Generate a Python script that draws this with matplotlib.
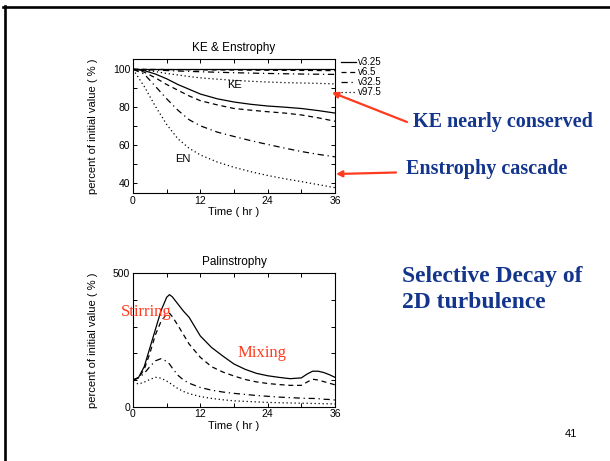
import matplotlib
matplotlib.use("Agg")
import matplotlib.pyplot as plt
from matplotlib.lines import Line2D
from matplotlib.text import Annotation
from matplotlib.ticker import MultipleLocator, FixedLocator

# ---- data -------------------------------------------------------------
runs = ["v3.25", "v6.5", "v32.5", "v97.5"]

t_top = [0, 2, 4, 6, 8, 10, 12, 15, 18, 21, 24, 27, 30, 33, 36]

ke_v3 = [100, 100, 100, 100, 100, 100, 100, 100, 100, 100, 100, 100, 100, 100, 100]
ke_v6 = [100, 99.95, 99.9, 99.85, 99.8, 99.75, 99.7, 99.65, 99.6, 99.55, 99.5, 99.45, 99.4, 99.35, 99.3]
ke_v32 = [100, 99.85, 99.6, 99.35, 99.1, 98.9, 98.7, 98.45, 98.2, 98.0, 97.8, 97.65, 97.5, 97.4, 97.3]
ke_v97 = [100, 99.6, 98.8, 97.8, 97.0, 96.2, 95.5, 94.8, 94.2, 93.7, 93.3, 93.0, 92.8, 92.6, 92.3]

en_v3 = [100, 99.3, 97.5, 95.0, 92.0, 89.5, 87.0, 84.5, 82.8, 81.6, 80.7, 80.1, 79.4, 78.3, 77.0]
en_v6 = [100, 98.5, 95.5, 92.0, 89.0, 86.0, 83.5, 81.3, 79.4, 78.5, 77.7, 77.0, 76.0, 74.5, 72.7]
en_v32 = [100, 97.5, 91.0, 84.5, 78.5, 73.5, 70.3, 67.0, 64.7, 62.5, 60.5, 58.6, 56.8, 55.3, 54.0]
en_v97 = [100, 91.0, 80.5, 71.0, 63.5, 58.5, 55.0, 51.3, 48.5, 46.2, 44.2, 42.5, 41.0, 39.4, 37.8]

t_pal = [0, 1, 2, 3, 4, 5, 6, 6.5, 7, 8, 9, 10, 12, 14, 16, 18, 20, 22, 24,
         26, 28, 30, 31, 32, 33, 34, 35, 36]
pal_v3 = [100, 110, 150, 220, 290, 360, 410, 420, 412, 385, 358, 335, 265, 222,
          190, 160, 140, 125, 116, 110, 105, 108, 122, 133, 133, 128, 120, 110]
pal_v6 = [100, 108, 140, 200, 270, 320, 348, 350, 338, 305, 270, 235, 185, 150,
          130, 115, 102, 93, 87, 83, 80, 80, 92, 103, 100, 94, 88, 82]
pal_v32 = [100, 108, 125, 150, 172, 180, 170, 160, 145, 118, 100, 88, 72, 62,
           55, 50, 46, 42, 39, 36, 34, 32, 31, 31, 30, 28, 27, 25]
pal_v97 = [92, 85, 92, 102, 110, 107, 96, 90, 82, 68, 57, 49, 38, 31,
           26, 22, 20, 18, 16, 15, 14, 13, 13, 12, 12, 11, 11, 10]

# ---- styling ----------------------------------------------------------
plt.rcParams["font.family"] = ["Liberation Sans", "DejaVu Sans"]
styles = ["-", (0, (4, 3)), (0, (5, 3, 1, 3)), (0, (1, 2.2))]
LW = 0.9
RED = "#FF3B1F"
BLUE = "#13358C"
SERIF = ["Liberation Serif", "DejaVu Serif"]

W, H = 610, 461
fig = plt.figure(figsize=(W / 100, H / 100), dpi=100)


def frac_box(x0, y0, x1, y1):
    return [x0 / W, 1 - y1 / H, (x1 - x0) / W, (y1 - y0) / H]


def fp(x, y):
    return (x / W, 1 - y / H)


def style_axes(ax):
    for s in ax.spines.values():
        s.set_linewidth(0.8)
    ax.tick_params(which="both", direction="in", top=True, right=True,
                   length=3, width=0.7, labelsize=7.5, pad=2)
    ax.set_xlim(0, 36)
    ax.xaxis.set_major_locator(FixedLocator([0, 12, 24, 36]))
    ax.xaxis.set_minor_locator(MultipleLocator(6))
    ax.set_xlabel("Time ( hr )", fontsize=8, labelpad=1)
    ax.set_ylabel("percent of initial value ( % )", fontsize=8, labelpad=11)


# ---- KE & Enstrophy ---------------------------------------------------
ax1 = fig.add_axes(frac_box(133, 59, 335, 193))
handles = []
for ke, en, ls, lab in zip([ke_v3, ke_v6, ke_v32, ke_v97],
                           [en_v3, en_v6, en_v32, en_v97], styles, runs):
    ax1.plot(t_top, ke, color="black", lw=LW, linestyle=ls)
    h, = ax1.plot(t_top, en, color="black", lw=LW, linestyle=ls, label=lab)
    handles.append(h)
style_axes(ax1)
ax1.set_ylim(35, 105.4)
ax1.yaxis.set_major_locator(FixedLocator([40, 60, 80, 100]))
ax1.yaxis.set_minor_locator(MultipleLocator(10))
ax1.set_title("KE & Enstrophy", fontsize=8.5, pad=6)
ax1.text(18, 91.5, "KE", fontsize=8, ha="center", va="center")
ax1.text(8.8, 53, "EN", fontsize=8, ha="center", va="center")

fig.legend(handles=handles, labels=runs, loc="upper left",
           bbox_to_anchor=(341 / W, 1 - 57 / H), frameon=False,
           fontsize=7, borderpad=0, borderaxespad=0, handlelength=1.55,
           handletextpad=0.15, labelspacing=0.0)

# ---- Palinstrophy -----------------------------------------------------
ax2 = fig.add_axes(frac_box(133, 273.3, 335, 406.7))
for vals, ls in zip([pal_v3, pal_v6, pal_v32, pal_v97], styles):
    ax2.plot(t_pal, vals, color="black", lw=LW, linestyle=ls)
style_axes(ax2)
ax2.set_ylim(0, 500)
ax2.yaxis.set_major_locator(FixedLocator([0, 500]))
ax2.yaxis.set_minor_locator(MultipleLocator(100))
ax2.set_title("Palinstrophy", fontsize=8.5, pad=6)

fig.text(*fp(146, 312), "Stirring", color=RED, fontsize=12, family=SERIF,
         ha="center", va="center")
fig.text(*fp(262, 353), "Mixing", color=RED, fontsize=12, family=SERIF,
         ha="center", va="center")

# ---- slide text, arrows and frame ------------------------------------
fig.text(*fp(413, 127), "KE nearly conserved", color=BLUE, fontsize=14.5,
         family=SERIF, weight="bold", ha="left", va="baseline")
fig.text(*fp(406, 174), "Enstrophy cascade", color=BLUE, fontsize=14.5,
         family=SERIF, weight="bold", ha="left", va="baseline")
fig.text(*fp(402, 281.5), "Selective Decay of", color=BLUE, fontsize=17,
         family=SERIF, weight="bold", ha="left", va="baseline")
fig.text(*fp(402, 308), "2D turbulence", color=BLUE, fontsize=17,
         family=SERIF, weight="bold", ha="left", va="baseline")
fig.text(*fp(571, 434), "41", fontsize=8, ha="center", va="center")

arrow = dict(arrowstyle="-|>,head_length=0.35,head_width=0.18", color=RED,
             lw=1.6, shrinkA=0, shrinkB=0)
fig.add_artist(Annotation(
    "", xy=fp(332, 92.5), xytext=fp(407, 122), xycoords="figure fraction",
    textcoords="figure fraction", arrowprops=arrow))
fig.add_artist(Annotation(
    "", xy=fp(336, 174), xytext=fp(396, 172.5), xycoords="figure fraction",
    textcoords="figure fraction", arrowprops=arrow))

fig.add_artist(Line2D([3 / W, 1], [1 - 7 / H, 1 - 7 / H], color="black",
                      lw=1.9, transform=fig.transFigure))
fig.add_artist(Line2D([4.5 / W, 4.5 / W], [0, 1 - 6 / H], color="black",
                      lw=1.9, transform=fig.transFigure))

fig.savefig("out.png", dpi=100)
